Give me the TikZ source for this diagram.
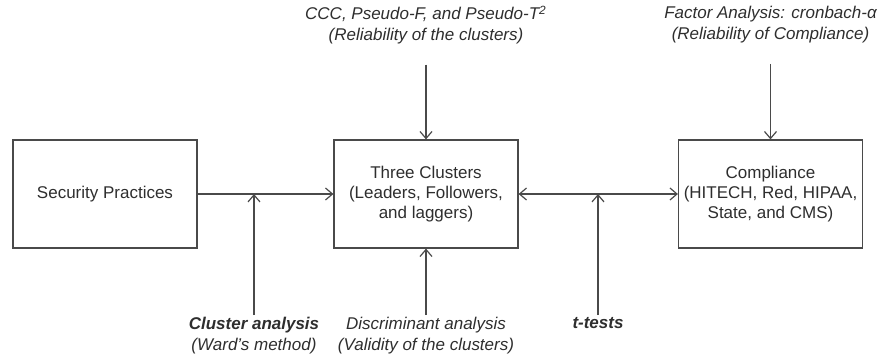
\documentclass[tikz,border=0pt]{standalone}
\usepackage{fontspec}
\setmainfont{Liberation Sans}
\usetikzlibrary{arrows.meta}
\definecolor{linegray}{HTML}{4A4A4A}
\definecolor{textgray}{HTML}{2E2E2E}
\begin{document}
\begin{tikzpicture}[x = 0.5pt, y = -0.5pt]
    \tikzstyle{box} = [draw = linegray, line width = 0.6pt, minimum width = 92pt, minimum height = 54pt, align = center, text = textgray, font = \fontsize{8.5}{10}\selectfont, inner sep = 0pt];
    \tikzstyle{lab} = [align = center, text = textgray, font = \fontsize{8.5}{10.5}\selectfont\itshape, inner sep = 1pt];
    \tikzstyle{arr} = [draw = linegray, line width = 0.6pt, -{Straight Barb[length = 3.5pt, width = 6pt]}];
    \tikzstyle{darr} = [arr, {Straight Barb[length = 3.5pt, width = 6pt]}-{Straight Barb[length = 3.5pt, width = 6pt]}];
    \useasboundingbox (0,0) rectangle (894,359);
    % boxes:
    \node[box] (sec) at (105,194){Security Practices};
    \node[box] (three) at (426,194){Three Clusters\\(Leaders, Followers,\\and laggers)};
    \node[box] (comp) at (770.5,194){Compliance\\(HITECH, Red, HIPAA,\\State, and CMS)};
    % labels:
    \node[lab] (ccc) at (426,25){CCC, Pseudo-F, and Pseudo-T\textsuperscript{2}\\(Reliability of the clusters)};
    \node[lab] (fac) at (770.5,25){Factor Analysis: cronbach-α\\(Reliability of Compliance)};
    \node[lab, anchor = north] (ward) at (254,315){\textbf{Cluster analysis}\\(Ward's method)};
    \node[lab, anchor = north] (disc) at (426,315){Discriminant analysis\\(Validity of the clusters)};
    \node[lab, anchor = north] (ttest) at (598,315){\textbf{t-tests}};
    \coordinate (m1) at (254,194);
    \coordinate (m2) at (598,194);
    % lines:
    \draw[arr] (sec) -- (three);
    \draw[darr] (three) -- (comp);
    \draw[arr] (ward) -- (m1); \draw[arr] (ttest) -- (m2);
    \draw[arr] (disc) -- (three);
    \draw[arr, shorten <= 9pt] (ccc) -- (three);
    \draw[arr, shorten <= 9pt] (fac) -- (comp);
  \end{tikzpicture}
\end{document}
